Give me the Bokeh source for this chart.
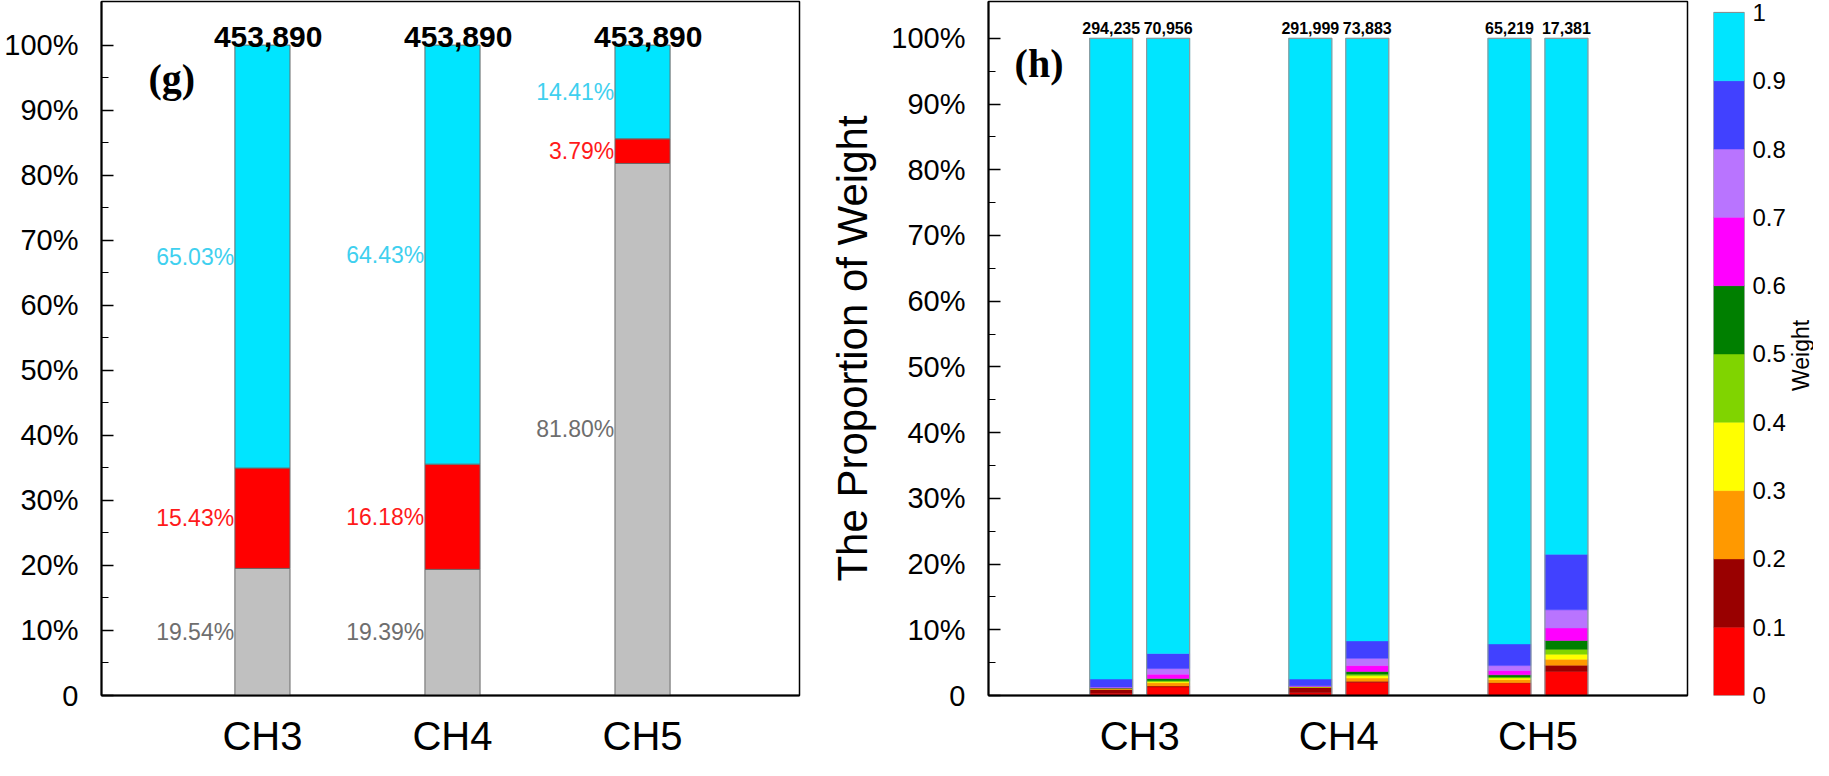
import numpy as np
from bokeh.plotting import figure
from bokeh.models import (ColumnDataSource, FixedTicker, CustomJSTickFormatter,
                          Range1d)
from bokeh.layouts import row
from bokeh.core.properties import value
from bokeh.embed import file_html
from bokeh.resources import INLINE

# ---------------- data ----------------
categories = ["CH3", "CH4", "CH5"]

# panel (g): shares in percent
g_gray = [19.54, 19.39, 81.80]
g_red = [15.43, 16.18, 3.79]
g_cyan = [65.03, 64.43, 14.41]
g_totals = ["453,890", "453,890", "453,890"]

# panel (h): two bars per category, shares (percent) per weight bin
h_totals = ["294,235", "70,956", "291,999", "73,883", "65,219", "17,381"]
w_00_01 = [0.35, 1.30, 0.40, 2.00, 1.90, 3.67]
w_01_02 = [0.60, 0.15, 0.85, 0.15, 0.05, 0.95]
w_02_03 = [0.05, 0.50, 0.03, 0.50, 0.50, 0.90]
w_03_04 = [0.05, 0.15, 0.03, 0.35, 0.20, 0.75]
w_04_05 = [0.05, 0.15, 0.03, 0.25, 0.15, 0.75]
w_05_06 = [0.05, 0.35, 0.03, 0.40, 0.35, 1.36]
w_06_07 = [0.05, 0.65, 0.03, 0.90, 0.65, 1.90]
w_07_08 = [0.10, 0.85, 0.10, 1.10, 0.75, 2.76]
w_08_09 = [1.20, 2.30, 1.00, 2.66, 3.30, 8.44]
w_09_10 = [97.50, 93.60, 97.50, 91.69, 92.15, 78.52]

bin_edges = [0.0, 0.1, 0.2, 0.3, 0.4, 0.5, 0.6, 0.7, 0.8, 0.9, 1.0]
bin_colors = ["#ff0000", "#990000", "#ff9900", "#ffff00", "#80d400",
              "#007f00", "#ff00ff", "#b974ff", "#4141ff", "#00e5ff"]
colorbar_title = "Weight"

FONT = "Liberation Sans"
CYAN = "#00e5ff"
RED = "#ff0000"
GRAY = "#c0c0c0"
TOP_B = 1
BOT_B = 59


def pct_formatter():
    return CustomJSTickFormatter(code="return tick == 0 ? '0' : tick.toFixed(0) + '%';")


def style_y(ax):
    ax.ticker = FixedTicker(ticks=list(range(0, 101, 10)),
                            minor_ticks=list(range(5, 100, 10)))
    ax.formatter = pct_formatter()
    ax.major_label_text_font = FONT
    ax.major_label_text_font_size = "29px"
    ax.major_label_text_color = "black"
    ax.major_tick_in = 12
    ax.major_tick_out = 0
    ax.minor_tick_in = 7
    ax.minor_tick_out = 0
    ax.major_tick_line_width = 1.5
    ax.minor_tick_line_width = 1.2
    ax.axis_line_width = 2
    ax.major_label_standoff = 23


def style_x(ax, ticks):
    ax.ticker = FixedTicker(ticks=ticks)
    ax.major_label_overrides = {t: c for t, c in zip(ticks, categories)}
    ax.major_label_text_font = FONT
    ax.major_label_text_font_size = "40px"
    ax.major_label_text_color = "black"
    ax.major_tick_in = 0
    ax.major_tick_out = 0
    ax.minor_tick_in = 0
    ax.minor_tick_out = 0
    ax.axis_line_width = 2
    ax.major_label_standoff = 18


# ---------------- panel (g) ----------------
gx = [1, 2, 3]
gw = 0.29
p1 = figure(width=812, height=760, x_range=Range1d(0.153, 3.826),
            y_range=Range1d(0, 106.7), output_backend="svg",
            toolbar_location=None, min_border_left=101, min_border_right=13,
            min_border_top=TOP_B, min_border_bottom=BOT_B)
p1.xgrid.visible = False
p1.ygrid.visible = False
p1.outline_line_color = "black"
p1.outline_line_width = 1.5

gsrc = ColumnDataSource(dict(x=gx, gray=g_gray, red=g_red, cyan=g_cyan))
p1.vbar_stack(["gray", "red", "cyan"], x="x", width=gw, source=gsrc,
              fill_color=[GRAY, RED, CYAN], line_color="#6a6a6a", line_width=1)

lab_x, lab_y, lab_t, lab_c = [], [], [], []
for i in range(3):
    base = 0.0
    for v, col in ((g_gray[i], "#6e6e6e"), (g_red[i], "#ff1a1a"), (g_cyan[i], "#3fd0ef")):
        lab_x.append(gx[i] - gw / 2 - 0.004)
        lab_y.append(base + v / 2)
        lab_t.append(f"{v:.2f}%")
        lab_c.append(col)
        base += v
p1.text(x="x", y="y", text="t", text_color="c",
        source=ColumnDataSource(dict(x=lab_x, y=lab_y, t=lab_t, c=lab_c)),
        text_font=value(FONT), text_font_size="23px",
        text_align="right", text_baseline="middle")
p1.text(x=[v + 0.03 for v in gx], y=[101.2] * 3, text=g_totals, text_font=value(FONT),
        text_font_style="bold", text_font_size="30px", text_color="black",
        text_align="center", text_baseline="alphabetic")
p1.text(x=[0.40], y=[94.8], text=["(g)"], text_font=value("Liberation Serif"),
        text_font_style="bold", text_font_size="40px", text_color="black",
        text_align="left", text_baseline="middle")
style_y(p1.yaxis[0])
style_x(p1.xaxis[0], gx)

# ---------------- panel (h) ----------------
hw = 0.216
off = 0.143
hx = []
for c in range(3):
    hx += [c + 1 - off, c + 1 + off]

p2 = figure(width=885, height=760, x_range=Range1d(0.241, 3.751),
            y_range=Range1d(0, 105.6), output_backend="svg",
            toolbar_location=None, min_border_left=176, min_border_right=10,
            min_border_top=TOP_B, min_border_bottom=BOT_B)
p2.xgrid.visible = False
p2.ygrid.visible = False
p2.outline_line_color = "black"
p2.outline_line_width = 1.5

stack_names = ["b0", "b1", "b2", "b3", "b4", "b5", "b6", "b7", "b8", "b9"]
stack_vals = [w_00_01, w_01_02, w_02_03, w_03_04, w_04_05,
              w_05_06, w_06_07, w_07_08, w_08_09, w_09_10]
hsrc = ColumnDataSource(dict(x=hx, **{n: v for n, v in zip(stack_names, stack_vals)}))
p2.vbar_stack(stack_names, x="x", width=hw, source=hsrc,
              fill_color=bin_colors, line_color=bin_colors, line_width=0.5)
p2.vbar(x=hx, top=[100] * 6, width=hw, fill_color=None,
        line_color="#8a9a9e", line_width=1.2)
p2.text(x=hx, y=[101.6] * 6, text=h_totals, text_font=value(FONT),
        text_font_style="bold", text_font_size="16px", text_color="black",
        text_align="center", text_baseline="alphabetic")
p2.text(x=[0.372], y=[96.2], text=["(h)"], text_font=value("Liberation Serif"),
        text_font_style="bold", text_font_size="40px", text_color="black",
        text_align="left", text_baseline="middle")
style_y(p2.yaxis[0])
style_x(p2.xaxis[0], [1, 2, 3])
p2.yaxis[0].axis_label = "The Proportion of Weight"
p2.yaxis[0].axis_label_text_font = FONT
p2.yaxis[0].axis_label_text_font_style = "normal"
p2.yaxis[0].axis_label_text_font_size = "42px"
p2.yaxis[0].axis_label_text_color = "black"
p2.yaxis[0].axis_label_standoff = 12

# ---------------- colour bar (own small figure) ----------------
p3 = figure(width=91, height=760, x_range=Range1d(0, 1),
            y_range=Range1d(0, 1.016), output_backend="svg",
            toolbar_location=None, x_axis_location=None, y_axis_location="right",
            min_border_left=16, min_border_right=44,
            min_border_top=TOP_B, min_border_bottom=BOT_B)
p3.xgrid.visible = False
p3.ygrid.visible = False
p3.outline_line_color = None
p3.quad(left=0, right=1, bottom=bin_edges[:-1], top=bin_edges[1:],
        fill_color=bin_colors, line_color=bin_colors, line_width=0.5)
p3.quad(left=[0], right=[1], bottom=[bin_edges[0]], top=[bin_edges[-1]],
        fill_color=None, line_color="#8a8a8a", line_width=1)
cax = p3.yaxis[0]
cax.ticker = FixedTicker(ticks=bin_edges)
cax.formatter = CustomJSTickFormatter(
    code="var s = tick.toFixed(1); return s.endsWith('.0') ? s.slice(0, -2) : s;")
cax.major_label_text_font = FONT
cax.major_label_text_font_size = "24px"
cax.major_label_text_color = "black"
cax.major_tick_in = 0
cax.major_tick_out = 0
cax.minor_tick_in = 0
cax.minor_tick_out = 0
cax.axis_line_color = None
cax.major_label_standoff = 8

# ---------------- colour-bar title strip ----------------
p4 = figure(width=25, height=760, x_range=Range1d(0, 1), y_range=Range1d(0, 1),
            output_backend="svg", toolbar_location=None,
            x_axis_location=None, y_axis_location=None,
            min_border_left=0, min_border_right=0,
            min_border_top=TOP_B, min_border_bottom=BOT_B)
p4.xgrid.visible = False
p4.ygrid.visible = False
p4.outline_line_color = None
p4.text(x=[0.5], y=[0.49], text=[colorbar_title], angle=np.pi / 2,
        text_font=value(FONT), text_font_size="23px", text_color="black",
        text_align="center", text_baseline="middle")

layout = row(p1, p2, p3, p4)
open("out.html", "w").write(file_html(layout, INLINE))
